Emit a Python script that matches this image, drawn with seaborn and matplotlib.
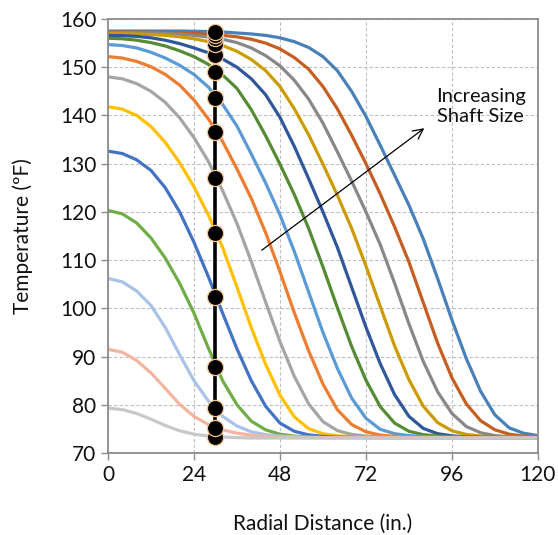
import pandas as pd
import seaborn as sns
import matplotlib.pyplot as plt

radius = list(range(0, 121, 4))

# Temperature profiles (F), smallest shaft first
temp_s1 = [79.3, 79.0, 78.2, 77.0, 75.7, 74.6, 73.9, 73.5, 73.3, 73.2, 73.1, 73.1, 73.1, 73.1, 73.1, 73.1,
           73.1, 73.1, 73.1, 73.1, 73.1, 73.1, 73.1, 73.1, 73.1, 73.1, 73.1, 73.1, 73.1, 73.1, 73.1]
temp_s2 = [91.5, 90.9, 89.2, 86.6, 83.4, 80.1, 77.6, 75.9, 74.8, 74.1, 73.7, 73.45, 73.3, 73.2, 73.2, 73.2,
           73.2, 73.2, 73.2, 73.2, 73.2, 73.2, 73.2, 73.2, 73.2, 73.2, 73.2, 73.2, 73.2, 73.2, 73.2]
temp_s3 = [106.2, 105.5, 103.6, 100.6, 96.0, 90.4, 85.0, 80.8, 77.6, 75.6, 74.4, 73.8, 73.5, 73.35, 73.25, 73.2,
           73.2, 73.2, 73.2, 73.2, 73.2, 73.2, 73.2, 73.2, 73.2, 73.2, 73.2, 73.2, 73.2, 73.2, 73.2]
temp_s4 = [120.3, 119.6, 117.7, 114.6, 110.4, 105.2, 99.0, 91.8, 85.0, 80.0, 76.6, 74.8, 73.9, 73.5, 73.3, 73.2,
           73.2, 73.2, 73.2, 73.2, 73.2, 73.2, 73.2, 73.2, 73.2, 73.2, 73.2, 73.2, 73.2, 73.2, 73.2]
temp_s5 = [132.6, 132.1, 130.8, 128.6, 125.0, 120.0, 113.7, 106.6, 99.0, 91.6, 85.0, 79.7, 76.2, 74.5, 73.75, 73.45,
           73.3, 73.25, 73.2, 73.2, 73.2, 73.2, 73.2, 73.2, 73.2, 73.2, 73.2, 73.2, 73.2, 73.2, 73.2]
temp_s6 = [141.8, 141.3, 140.0, 137.7, 134.4, 130.2, 125.2, 119.4, 112.6, 104.4, 96.0, 88.4, 82.0, 77.5, 75.05, 74.0,
           73.55, 73.35, 73.25, 73.2, 73.2, 73.2, 73.2, 73.2, 73.2, 73.2, 73.2, 73.2, 73.2, 73.2, 73.2]
temp_s7 = [148.0, 147.6, 146.6, 145.0, 142.7, 139.5, 135.4, 130.5, 124.4, 117.6, 109.7, 101.3, 93.1, 85.9, 80.2, 76.5,
           74.65, 73.85, 73.5, 73.35, 73.3, 73.2, 73.2, 73.2, 73.2, 73.2, 73.2, 73.2, 73.2, 73.2, 73.2]
temp_s8 = [152.2, 151.9, 151.2, 150.1, 148.5, 146.3, 143.2, 139.3, 134.6, 128.9, 122.8, 115.7, 107.6, 99.1, 91.2, 84.3,
           79.0, 75.9, 74.4, 73.7, 73.45, 73.3, 73.25, 73.2, 73.2, 73.2, 73.2, 73.2, 73.2, 73.2, 73.2]
temp_s9 = [154.7, 154.5, 154.0, 153.1, 151.9, 150.4, 148.5, 145.9, 142.3, 137.8, 132.0, 126.0, 119.4, 111.8, 103.4, 95.0,
           87.6, 81.4, 77.2, 74.9, 74.0, 73.6, 73.4, 73.3, 73.25, 73.2, 73.2, 73.2, 73.2, 73.2, 73.2]
temp_s10 = [156.0, 155.9, 155.6, 155.1, 154.4, 153.4, 152.2, 150.6, 148.4, 145.6, 141.2, 135.8, 129.9, 123.6, 116.6, 108.6,
            100.2, 92.1, 85.1, 79.6, 76.2, 74.5, 73.8, 73.5, 73.35, 73.3, 73.25, 73.2, 73.2, 73.2, 73.2]
temp_s11 = [156.6, 156.55, 156.4, 156.1, 155.6, 154.9, 154.0, 153.0, 151.7, 150.0, 147.6, 144.3, 139.6, 133.6, 126.9, 120.0,
            112.7, 104.4, 96.1, 88.5, 82.1, 77.6, 75.1, 74.0, 73.55, 73.35, 73.3, 73.25, 73.2, 73.2, 73.2]
temp_s12 = [157.0, 156.95, 156.9, 156.8, 156.6, 156.3, 155.9, 155.3, 154.5, 153.3, 151.6, 149.3, 146.0, 141.4, 136.0, 129.9,
            123.5, 116.6, 108.8, 100.4, 92.2, 85.2, 79.7, 76.3, 74.6, 73.85, 73.5, 73.35, 73.25, 73.2, 73.2]
temp_s13 = [157.2, 157.2, 157.15, 157.1, 157.0, 156.85, 156.6, 156.25, 155.8, 155.1, 154.0, 152.4, 150.3, 147.3, 143.4, 138.4,
            132.5, 126.4, 120.0, 113.2, 105.2, 96.8, 89.0, 82.7, 78.2, 75.5, 74.2, 73.6, 73.35, 73.25, 73.2]
temp_s14 = [157.3, 157.3, 157.3, 157.25, 157.2, 157.1, 157.0, 156.8, 156.6, 156.3, 155.8, 155.0, 153.8, 152.0, 149.6, 146.0,
            141.4, 135.9, 130.0, 123.7, 116.9, 109.6, 101.2, 92.8, 85.6, 80.2, 76.7, 74.8, 73.9, 73.5, 73.3]
temp_s15 = [157.5, 157.5, 157.5, 157.5, 157.5, 157.5, 157.45, 157.4, 157.3, 157.1, 156.9, 156.6, 156.1, 155.3, 154.1, 152.2,
            149.3, 145.0, 139.8, 133.8, 127.6, 121.4, 114.4, 106.2, 97.6, 89.6, 82.8, 77.9, 75.2, 74.1, 73.6]

# Temperatures at the 30 in. probe line, one per shaft
probe_r = 30
probe_temps = [73.4, 75.2, 79.3, 87.9, 102.4, 115.7, 127.0, 136.5, 143.7, 149.0, 152.5, 154.9, 156.0, 156.7, 157.4]

shaft_names = [f"S{i}" for i in range(1, 16)]
shaft_colors = ["#C8C8C8", "#F3B5A0", "#A9C3E8", "#70AD47", "#4472C4", "#FFC000", "#A5A5A5", "#ED7D31",
                "#5B9BD5", "#558B35", "#30569C", "#CC9B00", "#888888", "#C65E22", "#4A80B8"]
profiles = [temp_s1, temp_s2, temp_s3, temp_s4, temp_s5, temp_s6, temp_s7, temp_s8,
            temp_s9, temp_s10, temp_s11, temp_s12, temp_s13, temp_s14, temp_s15]

frames = [pd.DataFrame({"r": radius, "T": t, "shaft": name}) for name, t in zip(shaft_names, profiles)]
# biggest shaft first so the small ones sit on top
df = pd.concat(frames[::-1], ignore_index=True)

sns.set_theme(style="white")
plt.rcParams["font.family"] = ["Lato", "DejaVu Sans"]

fig, ax = plt.subplots(figsize=(5.58, 5.35), dpi=100)
fig.subplots_adjust(left=0.1935, right=0.964, top=0.9645, bottom=0.1533)

sns.lineplot(data=df, x="r", y="T", hue="shaft", hue_order=shaft_names[::-1],
             palette=shaft_colors[::-1], estimator=None, sort=False,
             linewidth=2.3, legend=False, ax=ax,
             solid_joinstyle="round", solid_capstyle="round")

ax.plot([probe_r] * len(probe_temps), probe_temps, color="black", lw=2.6, zorder=5)
sns.scatterplot(x=[probe_r] * len(probe_temps), y=probe_temps, color="black",
                edgecolor="#F6C690", linewidth=0.9, s=135, zorder=6, ax=ax)

ax.annotate("", xy=(88.9, 137.7), xytext=(42.3, 111.7),
            arrowprops=dict(arrowstyle="->", color="black", lw=0.9, mutation_scale=18))
ax.text(91.7, 141.8, "Increasing\nShaft Size", ha="left", va="center", fontsize=14.5, color="#111111")

ax.set_xlim(0, 120)
ax.set_ylim(70, 160)
ax.set_xticks([0, 24, 48, 72, 96, 120])
ax.set_yticks(range(70, 161, 10))
ax.grid(True, color="#BFBFBF", lw=0.8, linestyle=(0, (3, 2)))
ax.set_axisbelow(True)
for sp in ax.spines.values():
    sp.set_color("#8C8C8C")
    sp.set_linewidth(1.3)
ax.tick_params(axis="both", which="both", direction="out", length=5, width=1,
               color="#8C8C8C", labelsize=15, labelcolor="#111111",
               bottom=True, left=True)
ax.set_xlabel("Radial Distance (in.)", fontsize=15, labelpad=21, color="#111111")
ax.set_ylabel("Temperature (ºF)", fontsize=15, labelpad=19, color="#111111")

fig.savefig("out.png", dpi=100)
